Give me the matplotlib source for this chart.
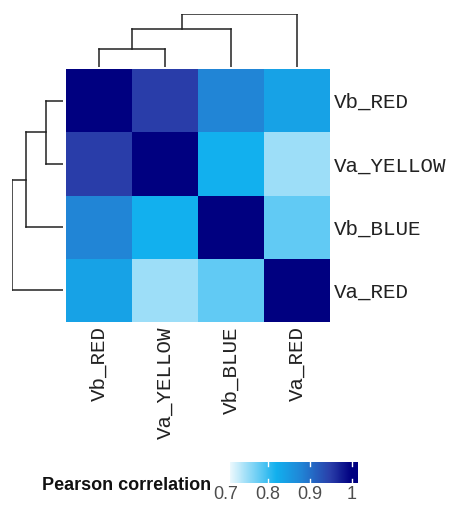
# clustered correlation heatmap with dendrograms and a horizontal colour key

import numpy as np
import matplotlib
matplotlib.use('Agg')
import matplotlib.pyplot as plt
from matplotlib.colors import LinearSegmentedColormap, Normalize

# samples in dendrogram order (top -> bottom, left -> right)
samples = ['Vb_RED', 'Va_YELLOW', 'Vb_BLUE', 'Va_RED']

# pearson correlations
corr = np.array([
    [1.00, 0.95, 0.88, 0.84],
    [0.95, 1.00, 0.82, 0.75],
    [0.88, 0.82, 1.00, 0.78],
    [0.84, 0.75, 0.78, 1.00],
])

# heights of the sequential merges (relative to the root)
merge_heights = [0.34, 0.72, 1.0]

cbar_ticks = [0.7, 0.8, 0.9, 1.0]
cbar_ticklabels = ['0.7', '0.8', '0.9', '1']

W, H = 458, 505
fig = plt.figure(figsize=(W / 100, H / 100), dpi=100)


def px_axes(left, top, right, bottom):
    # add axes from pixel box (origin top-left)
    return fig.add_axes([left / W, 1 - bottom / H, (right - left) / W, (bottom - top) / H])


vmin, vmax = 0.7, 1.0
cmap = LinearSegmentedColormap.from_list('pearson', [
    (0.0, 'white'), (0.4, '#12b0ee'), (0.6, '#2185d6'), (0.83, '#2a3faa'), (1.0, '#000080')])
norm = Normalize(vmin, vmax)

# heatmap
ax = px_axes(66, 69, 330, 322)
n = len(samples)
ax.pcolormesh(np.arange(n + 1), np.arange(n + 1), corr, cmap=cmap, norm=norm)
ax.set_xlim(0, n)
ax.set_ylim(n, 0)
ax.set_xticks(np.arange(n) + 0.5)
ax.set_yticks(np.arange(n) + 0.5)
ax.set_xticklabels(samples, rotation=90, family='Liberation Mono', fontsize=15, color='#222222')
ax.set_yticklabels(samples, family='Liberation Mono', fontsize=15, color='#222222')
ax.yaxis.tick_right()
ax.tick_params(length=0, pad=3)
for s in ax.spines.values():
    s.set_visible(False)


def dendro_lines(heights):
    # sequential merges: first two leaves, then each next leaf joins the cluster
    segs = []
    pos = [i + 0.5 for i in range(len(heights) + 1)]
    cur_x, cur_h = pos[0], 0.0
    for k, h in enumerate(heights):
        other = pos[k + 1]
        segs.append(([cur_x, cur_x], [cur_h, h]))
        segs.append(([other, other], [0.0, h]))
        segs.append(([cur_x, other], [h, h]))
        cur_x, cur_h = (cur_x + other) / 2, h
    return segs


# top dendrogram
axt = px_axes(66, 14, 330, 67)
for xs, hs in dendro_lines(merge_heights):
    axt.plot(xs, hs, color='#222222', lw=1.1, solid_capstyle='projecting')
axt.set_xlim(0, n)
axt.set_ylim(0, 1)
axt.axis('off')

# left dendrogram
axl = px_axes(12, 69, 63, 322)
for ys, hs in dendro_lines(merge_heights):
    axl.plot(hs, ys, color='#222222', lw=1.1, solid_capstyle='projecting')
axl.set_ylim(n, 0)
axl.set_xlim(1, 0)
axl.axis('off')

# colour key
axc = px_axes(230, 462, 358, 483)
lo, hi = 0.71, 1.015
grad = np.linspace(lo, hi, 256)[None, :]
axc.imshow(grad, extent=[lo, hi, 0, 1], aspect='auto', cmap=cmap, norm=norm)
axc.set_xlim(lo, hi)
axc.set_ylim(0, 1)
for t in cbar_ticks[1:]:
    axc.plot([t, t], [0, 0.2], color='white', lw=1)
    axc.plot([t, t], [0.8, 1], color='white', lw=1)
axc.axis('off')
for t, lab in zip(cbar_ticks, cbar_ticklabels):
    axc.text(t, -0.15, lab, ha='center', va='top', fontsize=13,
             family='Liberation Sans', color='#4d4d4d', clip_on=False)
fig.text(42 / W, 1 - 490 / H, 'Pearson correlation', ha='left', va='baseline',
         fontsize=13, fontweight='bold', family='Liberation Sans', color='#111111')

fig.savefig('out.png', dpi=100)
